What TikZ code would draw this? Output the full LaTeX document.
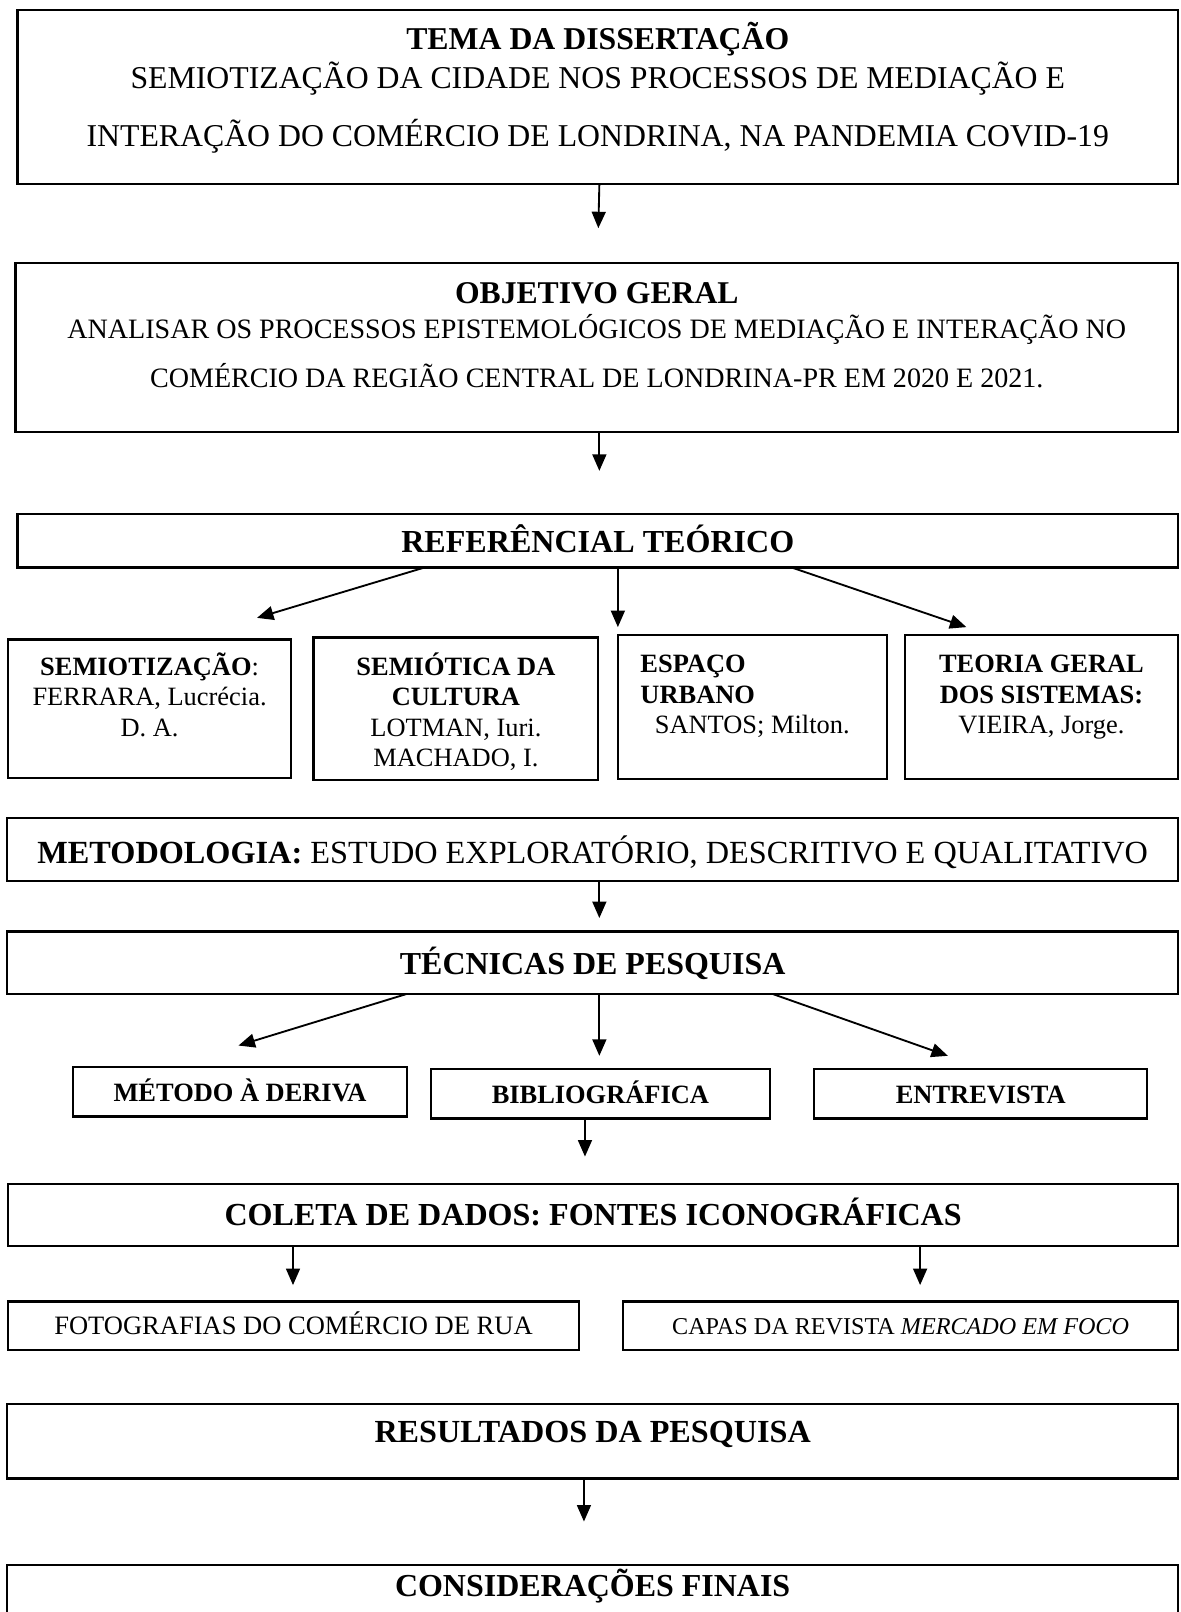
\documentclass[tikz,border=0pt]{standalone}
\usepackage{fontspec}
\setmainfont{Liberation Serif}
\usetikzlibrary{arrows.meta}
\setlength\lineskiplimit{-100pt}
\tikzset{
  bx/.style={draw=black, line width=2.2pt, inner sep=0pt, outer sep=0pt, fill=white},
  arr/.style={line width=1.8pt, -{Triangle[length=16pt,width=13.5pt]}}
}
% name, x1, y1, x2, y2, first baseline, content
\newcommand\flowbox[7]{%
  \node[bx, anchor=north west] (#1) at (#2,#3)
  {\parbox[c][\dimexpr #5pt-#3pt\relax][t]{\dimexpr #4pt-#2pt\relax}{\vspace*{\dimexpr #6pt-#3pt-30pt\relax}#7}};}
\begin{document}
\begin{tikzpicture}[x=1pt,y=-1pt]
\useasboundingbox (0,0) rectangle (1148,1568);
\fill[white] (0,0) rectangle (1148,1568);
\clip (0,0) rectangle (1148,1568);

\flowbox{tema}{17}{10}{1146}{179}{48.2}{\centering\fontsize{30.9}{38}\selectfont\rule{0pt}{30pt}\textbf{TEMA DA DISSERTAÇÃO}\\
SEMIOTIZAÇÃO DA CIDADE NOS PROCESSOS DE MEDIAÇÃO E\\[18pt]
INTERAÇÃO DO COMÉRCIO DE LONDRINA, NA PANDEMIA COVID-19}

\flowbox{obj}{15}{256}{1146}{420}{295.2}{\centering\fontsize{27.3}{33.7}\selectfont\rule{0pt}{30pt}{\fontsize{30.8}{33.7}\selectfont\bfseries OBJETIVO GERAL}\\
ANALISAR OS PROCESSOS EPISTEMOLÓGICOS DE MEDIAÇÃO E INTERAÇÃO NO\\[14.3pt]
COMÉRCIO DA REGIÃO CENTRAL DE LONDRINA-PR EM 2020 E 2021.}

\flowbox{ref}{17}{500}{1146}{552}{537.2}{\centering\fontsize{31.2}{36}\selectfont\rule{0pt}{30pt}\textbf{REFERÊNCIAL TEÓRICO}}

\flowbox{semi}{8}{622}{283}{757}{656.6}{\centering\fontsize{25.7}{30}\selectfont\rule{0pt}{30pt}\textbf{SEMIOTIZAÇÃO}:\\
FERRARA, Lucrécia.\\ D. A.}

\flowbox{cult}{305}{620}{582}{759}{656.6}{\centering\fontsize{25.7}{29.7}\selectfont\rule{0pt}{30pt}\textbf{SEMIÓTICA DA}\\
\textbf{CULTURA}\\ LOTMAN, Iuri.\\ MACHADO, I.}

\flowbox{esp}{601}{618}{863}{758}{654.6}{\raggedright\fontsize{25.7}{29.5}\selectfont\hspace*{22pt}\rule{0pt}{30pt}\textbf{ESPAÇO}\\
\hspace*{22pt}\textbf{URBANO}\\
\hspace*{36pt}SANTOS; Milton.}

\flowbox{teo}{880}{618}{1146}{758}{654.6}{\centering\fontsize{25.7}{29.5}\selectfont\rule{0pt}{30pt}\textbf{TEORIA GERAL}\\
\textbf{DOS SISTEMAS:}\\ VIEIRA, Jorge.}

\flowbox{met}{7}{796}{1146}{857}{840}{\centering\fontsize{31.4}{36}\selectfont\rule{0pt}{30pt}\textbf{METODOLOGIA:} ESTUDO EXPLORATÓRIO, DESCRITIVO E QUALITATIVO}

\flowbox{tec}{7}{906}{1146}{967}{948}{\centering\fontsize{31.1}{36}\selectfont\rule{0pt}{30pt}\textbf{TÉCNICAS DE PESQUISA}}

\flowbox{der}{71}{1038}{396}{1086}{1071.3}{\centering\fontsize{25.7}{30}\selectfont\rule{0pt}{30pt}\textbf{MÉTODO À DERIVA}}
\flowbox{bib}{419}{1040}{749}{1088}{1073}{\centering\fontsize{25.7}{30}\selectfont\rule{0pt}{30pt}\textbf{BIBLIOGRÁFICA}}
\flowbox{ent}{792}{1040}{1116}{1088}{1073}{\centering\fontsize{25.7}{30}\selectfont\rule{0pt}{30pt}\textbf{ENTREVISTA}}

\flowbox{col}{8}{1152}{1146}{1212}{1192}{\centering\fontsize{31.2}{36}\selectfont\rule{0pt}{30pt}\textbf{COLETA DE DADOS: FONTES ICONOGRÁFICAS}}

\flowbox{fot}{8}{1266}{563}{1313}{1298.5}{\centering\fontsize{25.8}{30}\selectfont\rule{0pt}{30pt}FOTOGRAFIAS DO COMÉRCIO DE RUA}
\flowbox{cap}{606}{1266}{1146}{1313}{1297.7}{\centering\fontsize{23.5}{28}\selectfont\rule{0pt}{30pt}CAPAS DA REVISTA \textit{MERCADO EM FOCO}}

\flowbox{res}{7}{1366}{1146}{1438}{1403}{\centering\fontsize{31.3}{36}\selectfont\rule{0pt}{30pt}\textbf{RESULTADOS DA PESQUISA}}

\flowbox{con}{7}{1522}{1146}{1600}{1553}{\centering\fontsize{31.1}{36}\selectfont\rule{0pt}{30pt}\textbf{CONSIDERAÇÕES FINAIS}}

% connectors
\draw[arr] ([xshift=1.5pt]tema.south) -- ([xshift=1.5pt,yshift=34pt]obj.north);
\draw[arr] ([xshift=2.5pt]obj.south) -- ([xshift=1.5pt,yshift=42pt]ref.north);
\draw[arr] ([xshift=-168.5pt]ref.south) -- ([xshift=104.5pt,yshift=21pt]semi.north);
\draw[arr] ([xshift=19.5pt]ref.south) -- ([xshift=-131pt,yshift=8pt]esp.north);
\draw[arr] ([xshift=188.5pt]ref.south) -- ([xshift=-73pt,yshift=8pt]teo.north);
\draw[arr] ([xshift=6.5pt]met.south) -- ([xshift=6.5pt,yshift=13pt]tec.north);
\draw[arr] ([xshift=-181.5pt]tec.south) -- ([xshift=-1.5pt,yshift=21pt]der.north);
\draw[arr] ([xshift=6.5pt]tec.south) -- ([xshift=-1pt,yshift=13pt]bib.north);
\draw[arr] ([xshift=175.5pt]tec.south) -- ([xshift=-32pt,yshift=13pt]ent.north);
\draw[arr] ([xshift=-15pt]bib.south) -- ([xshift=-8pt,yshift=27pt]col.north);
\draw[arr] ([xshift=-292pt]col.south) -- ([xshift=-0.5pt,yshift=16pt]fot.north);
\draw[arr] ([xshift=318pt]col.south) -- ([xshift=19pt,yshift=16pt]cap.north);
\draw[arr] ([xshift=-8.5pt]res.south) -- ([xshift=-8.5pt,yshift=42pt]con.north);
\end{tikzpicture}
\end{document}
